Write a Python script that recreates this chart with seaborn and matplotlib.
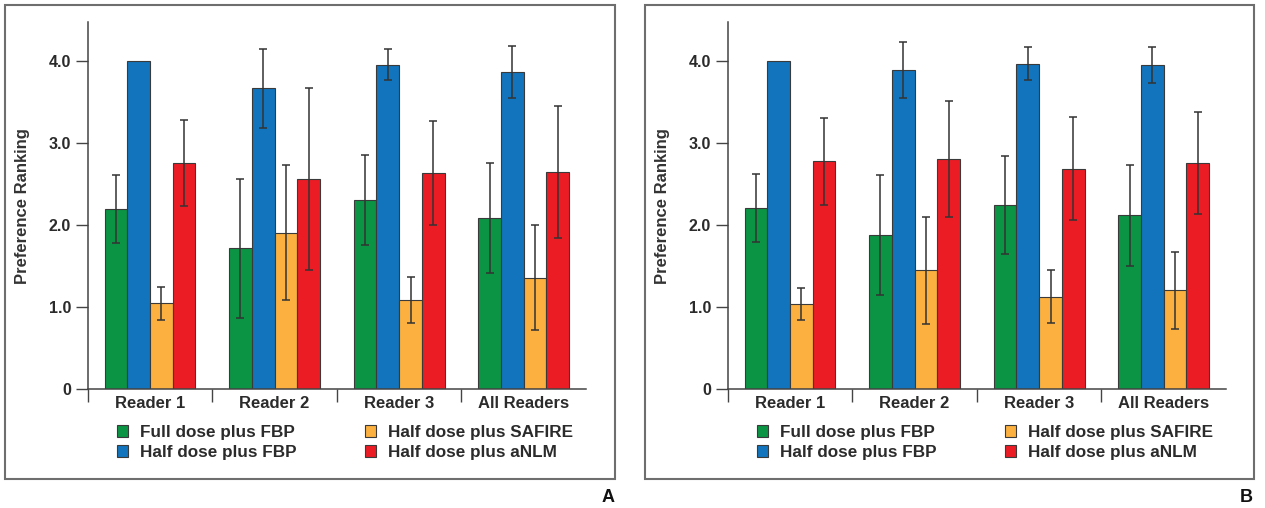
import pandas as pd
import numpy as np
import matplotlib
matplotlib.use('Agg')
import matplotlib.pyplot as plt
import seaborn as sns
from matplotlib.patches import Rectangle

readers = ['Reader 1', 'Reader 2', 'Reader 3', 'All Readers']
methods = ['Full dose plus FBP', 'Half dose plus FBP',
           'Half dose plus SAFIRE', 'Half dose plus aNLM']
colors = ['#0b9444', '#1174bd', '#fbb040', '#ec1c24']

# panel A: mean and sd per reader
full_fbp_a = [2.20, 1.72, 2.31, 2.09]
full_fbp_a_sd = [0.41, 0.85, 0.55, 0.67]
half_fbp_a = [4.00, 3.67, 3.96, 3.87]
half_fbp_a_sd = [0.00, 0.48, 0.19, 0.32]
safire_a = [1.05, 1.91, 1.09, 1.36]
safire_a_sd = [0.20, 0.82, 0.28, 0.64]
anlm_a = [2.76, 2.56, 2.64, 2.65]
anlm_a_sd = [0.52, 1.11, 0.63, 0.80]

# panel B
full_fbp_b = [2.21, 1.88, 2.25, 2.12]
full_fbp_b_sd = [0.41, 0.73, 0.60, 0.61]
half_fbp_b = [4.00, 3.89, 3.97, 3.96]
half_fbp_b_sd = [0.00, 0.34, 0.20, 0.22]
safire_b = [1.04, 1.45, 1.13, 1.21]
safire_b_sd = [0.20, 0.65, 0.32, 0.47]
anlm_b = [2.78, 2.81, 2.69, 2.76]
anlm_b_sd = [0.53, 0.71, 0.63, 0.62]

sns.set_theme(style='white')
plt.rcParams['font.family'] = ['Liberation Sans', 'DejaVu Sans']
txt = '#2b2b2b'

W, H = 1265, 508
fig = plt.figure(figsize=(W / 100, H / 100), dpi=100)


def make_df(vals, sds):
    rows = []
    for m, v, s in zip(methods, vals, sds):
        for r, vi, si in zip(readers, v, s):
            rows.append({'reader': r, 'method': m, 'rank': vi, 'sd': si})
    return pd.DataFrame(rows)


def draw(ax, df):
    sns.barplot(data=df, x='reader', y='rank', hue='method', hue_order=methods,
                palette=colors, width=0.73, errorbar=None, ax=ax,
                edgecolor='#3a3a3a', linewidth=0.8, saturation=1)
    for cont, m in zip(ax.containers, methods):
        sds = df[df['method'] == m]['sd'].values
        for p, s in zip(cont.patches, sds):
            if s <= 0:
                continue
            ax.errorbar(p.get_x() + p.get_width() / 2, p.get_height(), yerr=s,
                        fmt='none', ecolor='#333333', elinewidth=1.1,
                        capsize=3, capthick=1.1)
    ax.set_ylim(0, 4.48)
    ax.set_xlim(-0.5, 3.5)
    ax.set_yticks([0, 1, 2, 3, 4])
    ax.set_yticklabels(['0', '1.0', '2.0', '3.0', '4.0'])
    ax.set_xticks([-0.5, 0.5, 1.5, 2.5], minor=True)
    ax.tick_params(axis='x', which='major', length=0, pad=5, labelsize=12, labelcolor=txt)
    ax.tick_params(axis='x', which='minor', length=9, width=1, color='#444444', direction='out', bottom=True)
    ax.tick_params(axis='y', length=9, width=1, color='#444444', direction='out', left=True,
                   pad=3, labelsize=11.5, labelcolor=txt)
    for t in ax.get_xticklabels() + ax.get_yticklabels():
        t.set_fontweight('bold')
    for s in ['top', 'right']:
        ax.spines[s].set_visible(False)
    for s in ['left', 'bottom']:
        ax.spines[s].set_color('#444444')
        ax.spines[s].set_linewidth(1.1)
    ax.set_xlabel('')
    ax.set_ylabel('Preference Ranking', fontsize=12, fontweight='bold', color='#333333')
    ax.yaxis.set_label_coords(-0.116, 0.5)
    handles, labels = ax.get_legend_handles_labels()
    ax.get_legend().remove()
    return handles, labels


panels = [
    (87.7, 5, 615, make_df([full_fbp_a, half_fbp_a, safire_a, anlm_a],
                            [full_fbp_a_sd, half_fbp_a_sd, safire_a_sd, anlm_a_sd]), 'A', 608),
    (727.7, 645, 1254, make_df([full_fbp_b, half_fbp_b, safire_b, anlm_b],
                                [full_fbp_b_sd, half_fbp_b_sd, safire_b_sd, anlm_b_sd]), 'B', 1246),
]

for x0, fx0, fx1, df, label, lx in panels:
    fig.patches.append(Rectangle((fx0 / W, 1 - 479 / H), (fx1 - fx0) / W, 474 / H,
                                 transform=fig.transFigure, fill=False,
                                 edgecolor='#6e6e6e', linewidth=1.5))
    ax = fig.add_axes([x0 / W, 1 - 389.3 / H, 498.3 / W, 367.3 / H])
    handles, labels = draw(ax, df)
    leg = fig.legend(handles, labels, ncol=2, loc='upper left',
                     bbox_to_anchor=((x0 + 29) / W, 1 - 425 / H), frameon=False,
                     borderpad=0, borderaxespad=0, handlelength=0.65, handleheight=0.65,
                     handletextpad=0.7, labelspacing=0.3, columnspacing=4.0,
                     prop={'size': 12.3, 'weight': 'bold'})
    for t in leg.get_texts():
        t.set_color(txt)
    fig.text(lx / W, 1 - 497 / H, label, fontsize=13, fontweight='bold',
             ha='center', va='center', color='#111111')

fig.savefig('out.png', dpi=100)
